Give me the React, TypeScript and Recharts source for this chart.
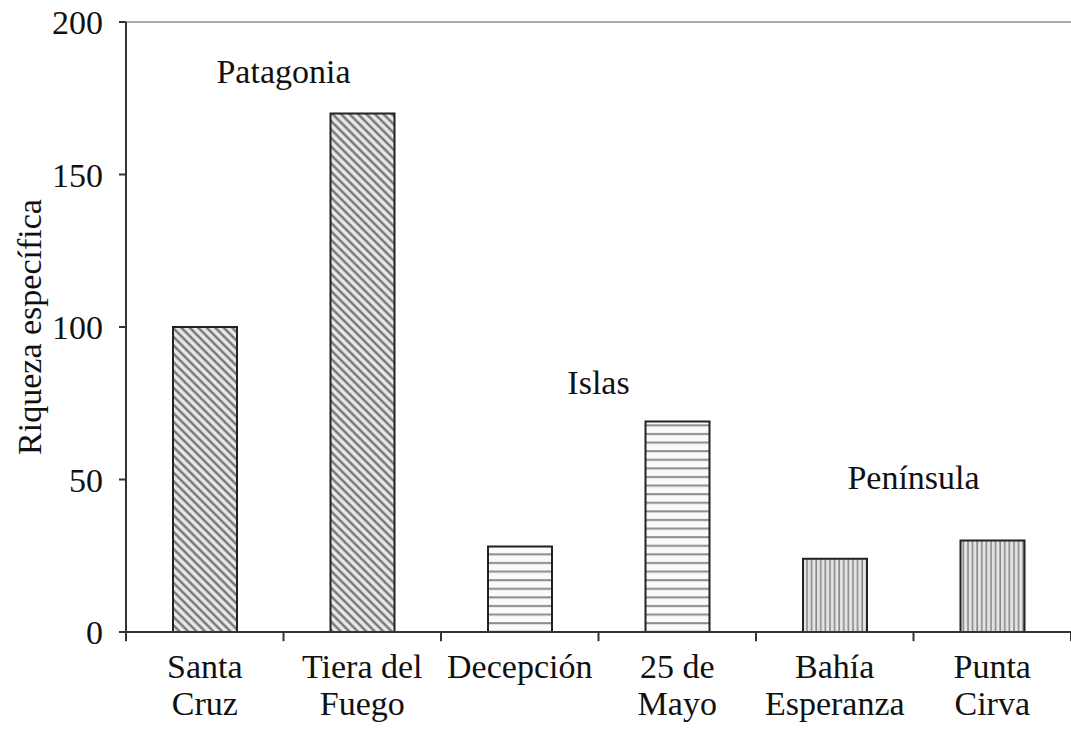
import { BarChart, Bar, XAxis, YAxis, Cell, ReferenceLine, ReferenceDot, Label } from 'recharts';

document.body.style.margin = '0';

const categories = ['Santa Cruz', 'Tiera del Fuego', 'Decepción', '25 de Mayo', 'Bahía Esperanza', 'Punta Cirva'];
const tickLines = [['Santa', 'Cruz'], ['Tiera del', 'Fuego'], ['Decepción'], ['25 de', 'Mayo'], ['Bahía', 'Esperanza'], ['Punta', 'Cirva']];
const riqueza = [100, 170, 28, 69, 24, 30];
const grupos = ['patagonia', 'patagonia', 'islas', 'islas', 'peninsula', 'peninsula'];
const yTicks = [0, 50, 100, 150, 200];
const limites = [0, 1, 2, 3, 4, 5, 6];
const regiones = [
  { name: 'Patagonia', x: 1, y: 184 },
  { name: 'Islas', x: 3, y: 82 },
  { name: 'Península', x: 5, y: 51 },
];

const data = categories.map((c, i) => ({ name: c, value: riqueza[i], grupo: grupos[i], pos: i + 0.5 }));

const FONT = '"Liberation Serif", serif';
const FS = 34;

const CatTick = (props: any) => {
  const { x, y, payload } = props;
  const lines = tickLines[payload.index] ?? [payload.value];
  return (
    <text x={x} y={y} textAnchor="middle" fontFamily={FONT} fontSize={FS} fill="#111">
      {lines.map((l, i) => (
        <tspan key={i} x={x} dy={i === 0 ? 46 : 37}>{l}</tspan>
      ))}
    </text>
  );
};

export default function App() {
  return (
    <div style={{ width: 1071, height: 731, background: '#fff' }}>
      <BarChart width={1071} height={731} data={data} margin={{ top: 22, right: 0, bottom: 0, left: 0 }}>
        <defs>
          <pattern id="pat-patagonia" width="6" height="6" patternUnits="userSpaceOnUse" patternTransform="rotate(45)">
            <rect width="6" height="6" fill="#e8e8e8" />
            <line x1="0" y1="1.5" x2="6" y2="1.5" stroke="#6a6a6a" strokeWidth="2.2" />
          </pattern>
          <pattern id="pat-islas" width="8" height="8.6" patternUnits="userSpaceOnUse">
            <rect width="8" height="8.6" fill="#fafafa" />
            <line x1="0" y1="4" x2="8" y2="4" stroke="#8a8a8a" strokeWidth="2" />
          </pattern>
          <pattern id="pat-peninsula" width="4.6" height="8" patternUnits="userSpaceOnUse">
            <rect width="4.6" height="8" fill="#e4e4e4" />
            <line x1="2" y1="0" x2="2" y2="8" stroke="#8a8a8a" strokeWidth="1.6" />
          </pattern>
        </defs>
        <XAxis
          dataKey="name"
          height={99}
          axisLine={{ stroke: '#333', strokeWidth: 2 }}
          tickLine={false}
          tickSize={0}
          tickMargin={0}
          interval={0}
          tick={<CatTick />}
        />
        <XAxis xAxisId="b" dataKey="pos" type="number" domain={[0, 6]} allowDataOverflow hide />
        <YAxis
          width={126}
          domain={[0, 200]}
          ticks={yTicks}
          interval={0}
          axisLine={{ stroke: '#333', strokeWidth: 2 }}
          tickLine={{ stroke: '#333', strokeWidth: 2 }}
          tickSize={7}
          tickMargin={16}
          tick={{ fontFamily: FONT, fontSize: FS, fill: '#111' }}
        >
          <Label value="Riqueza específica" angle={-90} position="center" dx={-34} fontFamily={FONT} fontSize={FS} fill="#111" />
        </YAxis>
        <ReferenceLine y={200} stroke="#aaa" strokeWidth={2} />
        <Bar dataKey="value" barSize={64} stroke="#222" strokeWidth={2} isAnimationActive={false}>
          {data.map((d, i) => (
            <Cell key={i} fill={`url(#pat-${d.grupo})`} />
          ))}
        </Bar>
        {limites.map((k) => (
          <ReferenceLine
            key={k}
            xAxisId="b"
            ifOverflow="visible"
            segment={[{ x: k, y: 0 }, { x: k, y: -3 }]}
            stroke="#333"
            strokeWidth={2}
          />
        ))}
        {regiones.map((r) => (
          <ReferenceDot key={r.name} xAxisId="b" x={r.x} y={r.y} r={0} stroke="none" fill="none">
            <Label value={r.name} position="center" fontFamily={FONT} fontSize={FS} fill="#111" />
          </ReferenceDot>
        ))}
      </BarChart>
    </div>
  );
}
